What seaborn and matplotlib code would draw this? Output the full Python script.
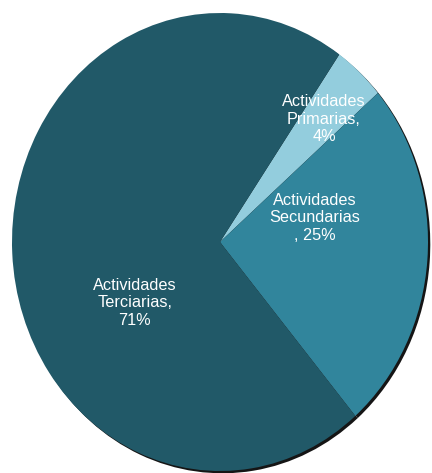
import matplotlib
matplotlib.use("Agg")
import matplotlib.pyplot as plt
import seaborn as sns

# Distribución de actividades económicas (%)
categories = ["Actividades Primarias", "Actividades Secundarias", "Actividades Terciarias"]
values = [4, 25, 71]
label_texts = ["Actividades\nPrimarias,\n4%", "Actividades\nSecundarias\n, 25%", "Actividades\nTerciarias,\n71%"]

colors = ["#93CDDD", "#31859C", "#215968"]
label_pos = [(0.50, 0.537), (0.457, 0.105), (-0.409, -0.266)]

sns.set_theme(style="white")
plt.rcParams["font.family"] = ["Liberation Sans", "DejaVu Sans"]

fig = plt.figure(figsize=(4.32, 4.73), dpi=100)
ax = fig.add_axes([12 / 432, 2 / 473, 416 / 432, 458 / 473])

# soft drop shadow under the pie
ax.pie(values, startangle=55, counterclock=False, colors=["#151515"] * 3,
       center=(0.011, -0.010), wedgeprops=dict(linewidth=0))
ax.pie(values, startangle=55, counterclock=False, colors=colors,
       wedgeprops=dict(linewidth=0))

for txt, (x, y) in zip(label_texts, label_pos):
    ax.text(x, y, txt, ha="center", va="center", color="white",
            fontsize=11.7, linespacing=1.22)

ax.set_aspect("auto")
ax.set_xlim(-1, 1)
ax.set_ylim(-1, 1)
ax.axis("off")

fig.savefig("out.png", dpi=100)
